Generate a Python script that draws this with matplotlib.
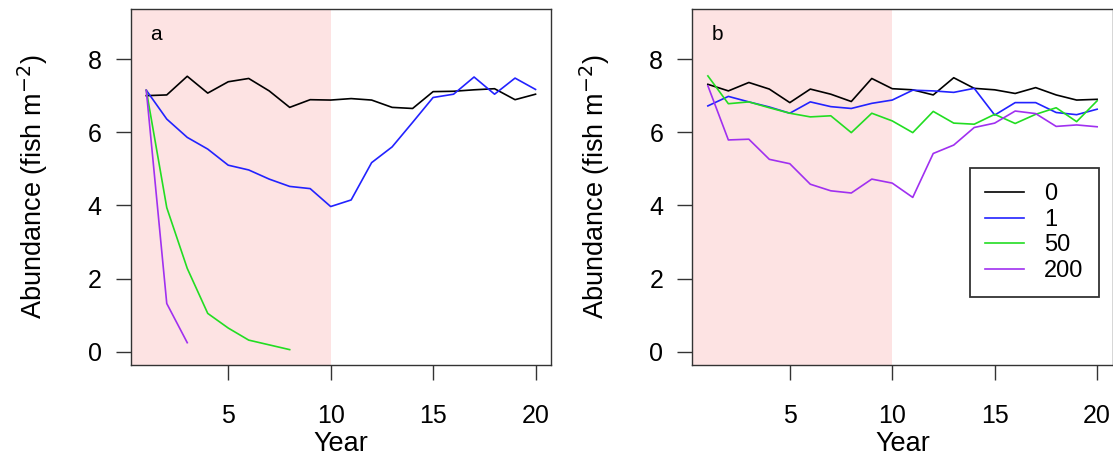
import matplotlib
matplotlib.use("Agg")
import matplotlib.pyplot as plt
import numpy as np

plt.rcParams['font.family'] = ['Liberation Sans', 'DejaVu Sans']

years = np.arange(1, 21)
treatments = ['0', '1', '50', '200']
colors = ['black', '#2222ff', '#22dd22', '#a030f0']

# panel a
a_0 = [7.00, 7.02, 7.53, 7.07, 7.38, 7.47, 7.13, 6.68, 6.89, 6.88,
       6.92, 6.88, 6.68, 6.65, 7.11, 7.12, 7.16, 7.19, 6.89, 7.04]
a_1 = [7.15, 6.36, 5.86, 5.54, 5.10, 4.97, 4.72, 4.52, 4.46, 3.97,
       4.15, 5.17, 5.60, 6.27, 6.95, 7.04, 7.51, 7.04, 7.48, 7.17]
a_50 = [7.15, 3.94, 2.28, 1.05, 0.65, 0.32, 0.19, 0.06]
a_200 = [7.15, 1.32, 0.25]

# panel b
b_0 = [7.31, 7.13, 7.36, 7.18, 6.81, 7.18, 7.04, 6.84, 7.47, 7.19,
       7.16, 7.02, 7.49, 7.20, 7.16, 7.06, 7.22, 7.02, 6.88, 6.90]
b_1 = [6.72, 6.98, 6.83, 6.69, 6.52, 6.83, 6.70, 6.65, 6.79, 6.88,
       7.15, 7.13, 7.09, 7.20, 6.47, 6.81, 6.81, 6.54, 6.48, 6.63]
b_50 = [7.54, 6.78, 6.83, 6.67, 6.52, 6.42, 6.45, 5.99, 6.52, 6.31,
        5.99, 6.57, 6.25, 6.22, 6.49, 6.24, 6.49, 6.67, 6.29, 6.86]
b_200 = [7.27, 5.79, 5.81, 5.26, 5.14, 4.58, 4.40, 4.34, 4.72, 4.61,
         4.22, 5.42, 5.65, 6.13, 6.25, 6.58, 6.51, 6.16, 6.20, 6.15]

fig = plt.figure(figsize=(11.13, 4.58), dpi=100)
W, H = 1113, 458

def make_axes(left_px):
    return fig.add_axes([left_px / W, (H - 365) / H, 420.4 / W, (365 - 9.3) / H])

def style(ax, tag):
    ax.axvspan(0.24, 10, color='#fde3e3', lw=0, zorder=0)
    ax.set_xlim(0.24, 20.76)
    ax.set_ylim(-0.36, 9.36)
    ax.set_xticks([5, 10, 15, 20])
    ax.set_yticks([0, 2, 4, 6, 8])
    ax.tick_params(axis='both', labelsize=18, length=11, width=1, color='#333333')
    ax.tick_params(axis='x', pad=17)
    ax.tick_params(axis='y', pad=10)
    for sp in ax.spines.values():
        sp.set_color('#333333')
        sp.set_linewidth(1.0)
    ax.set_xlabel('Year', fontsize=19.5, labelpad=2.5)
    ax.set_ylabel('Abundance (fish m$^{-2}$)', fontsize=19.5, labelpad=27)
    ax.text(0.06, 0.93, tag, transform=ax.transAxes, fontsize=15, va='center', ha='center')

ax1 = make_axes(130.7)
data_a = [a_0, a_1, a_50, a_200]
for vals, c, lab in zip(data_a, colors, treatments):
    ax1.plot(years[:len(vals)], vals, color=c, lw=1.2, label=lab)
style(ax1, 'a')

ax2 = make_axes(692.3)
data_b = [b_0, b_1, b_50, b_200]
for vals, c, lab in zip(data_b, colors, treatments):
    ax2.plot(years[:len(vals)], vals, color=c, lw=1.2, label=lab)
style(ax2, 'b')

leg = ax2.legend(loc='upper right', bbox_to_anchor=(0.967, 0.554), borderaxespad=0,
                 fontsize=17, frameon=True, fancybox=False, edgecolor='black',
                 handlelength=1.65, handletextpad=0.85, labelspacing=0.15, borderpad=0.65)
leg.get_frame().set_linewidth(1.3)

fig.savefig('out.png', dpi=100)
